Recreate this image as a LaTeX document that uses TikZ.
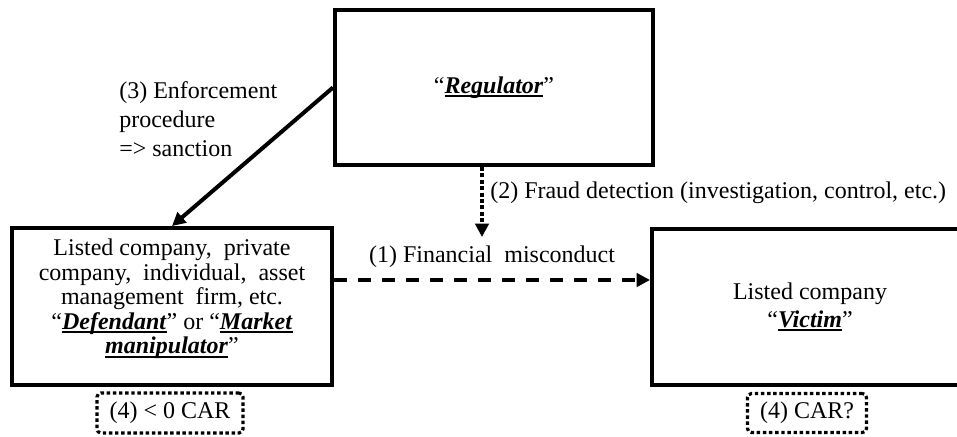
\documentclass[tikz,border=0pt]{standalone}
\usepackage{fontspec}
\setmainfont{Liberation Serif}
\usetikzlibrary{arrows.meta}
\newsavebox{\kwbox}
\newcommand{\kw}[1]{\leavevmode\sbox{\kwbox}{\textbf{\textit{#1}}}\rlap{\usebox{\kwbox}}\rule[-2.8pt]{\wd\kwbox}{1.5pt}}
\begin{document}
\begin{tikzpicture}[x=0.75pt,y=-0.75pt,
  every node/.style={font=\fontsize{18}{21}\selectfont, inner sep=0pt},
  box/.style={draw, line width=3pt},
  tip/.style={-{Triangle[length=10pt,width=10pt]}},
  conn/.style={line width=3pt},
  carbox/.style={draw, line width=2.4pt, dash pattern=on 2.6pt off 2pt, rounded corners=3pt},
]
\useasboundingbox (0,0) rectangle (957,436);
% boxes
\node[box, minimum width={318*0.75pt}, minimum height={155*0.75pt}] (reg) at (494,87.5) {“\kw{Regulator}”};
\node[box, minimum width={320*0.75pt}, minimum height={157*0.75pt}] (def) at (172,306.5) {};
\node[align=center, font=\fontsize{18}{18.4}\selectfont] (deftxt) at (172,299)
  {Listed company,\ \ private\\company,\ \ individual,\ \ asset\\management\ \ firm, etc.\\“\kw{Defendant}” or “\kw{Market}\\\kw{manipulator}”};
\node[box, minimum width={316*0.75pt}, minimum height={156*0.75pt}, align=center] (vic) at (810,307)
  {Listed company\\“\kw{Victim}”};
% CAR boxes
\node[carbox, minimum width={146*0.75pt}, minimum height={40*0.75pt}] (car1) at (170,413) {(4) < 0 CAR};
\node[carbox, minimum width={119*0.75pt}, minimum height={39*0.75pt}] (car2) at (807,413) {(4) CAR?};
% labels
\node[align=left, font=\fontsize{18}{21.75}\selectfont, anchor=west] (l3) at (119,119)
  {(3) Enforcement\\procedure\\=> sanction};
\node (l1) at (492,257) {(1) Financial\ \ misconduct};
\node[anchor=west] (l2) at (490,193) {(2) Fraud detection (investigation, control, etc.)};
% connectors
\coordinate (fd) at (482,237);
\coordinate (mis) at (492,280);
\draw[conn, tip] (reg.west) -- (def.north);
\draw[conn, dash pattern=on 3pt off 1.8pt, tip] (reg.south -| fd) -- (fd);
\draw[conn, dash pattern=on 10pt off 8pt, tip] (mis -| def.east) -- (mis -| vic.west);
\end{tikzpicture}
\end{document}
